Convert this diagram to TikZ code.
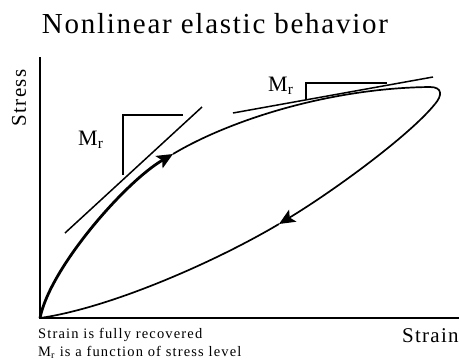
\documentclass[tikz,border=0pt]{standalone}
\usepackage{fontspec}
\setmainfont{Liberation Serif}
\usetikzlibrary{arrows.meta}

\begin{document}
\begin{tikzpicture}[x=1pt, y=-1pt,
      axis/.style={line width=2pt},
      load/.style={line width=2.8pt},
      curve/.style={line width=1.7pt},
      tang/.style={line width=1.5pt},
      tip/.style={-{Stealth[length=16pt, width=14pt, inset=3.5pt]}},
      ttl/.style={font=\fontsize{29}{32}\selectfont\addfontfeature{LetterSpace=6}},
      axlbl/.style={font=\fontsize{21}{24}\selectfont\addfontfeature{LetterSpace=6}},
      mlbl/.style={font=\fontsize{22}{24}\selectfont},
      note/.style={font=\fontsize{14.5}{16}\selectfont\addfontfeature{LetterSpace=8}},
    ]
    \useasboundingbox (0,0) rectangle (459,360);
    % axes
    \coordinate (O) at (40,318);
    \coordinate (ytop) at (40,57);
    \coordinate (xend) at (459,318);
    \draw[axis] (ytop) -- (O) -- (xend);
    % loading branch, arrow, then thin up to the turning point
    \coordinate (A) at (173,154);
    \coordinate (P) at (430,87);
    \coordinate (Q) at (435,104);
    \coordinate (B) at (279,224);
    \draw[load, tip] (O) .. controls (50,268) and (125,182) .. (A);
    \draw[curve] (A) .. controls (230,120) and (330,88) .. (P);
    \draw[curve] (P) .. controls (443,87) and (442,96) .. (Q);
    % unloading branch back to the origin
    \draw[curve, tip] (Q) .. controls (410,135) and (335,190) .. (B);
    \draw[curve] (B) .. controls (215,262) and (110,308) .. (O);
    % tangents and slope marks
    \draw[tang] (65,233) -- (202,107);
    \draw[tang] (123,175) -- (123,115) -- (183,115);
    \draw[tang] (233,113) -- (433,77);
    \draw[tang] (306,100) -- (306,83) -- (387,83);
    \node[mlbl, anchor=base west, inner sep=0pt] (m1) at (78,145) {M\textsubscript{r}};
    \node[mlbl, anchor=base west, inner sep=0pt] (m2) at (268,91) {M\textsubscript{r}};
    % texts
    \node[ttl, anchor=base] (title) at (215,33) {Nonlinear elastic behavior};
    \node[axlbl, anchor=base, rotate=90, inner sep=0pt] (stress) at (26,98) {Stress};
    \node[axlbl, anchor=base west, inner sep=0pt] (strain) at (402,342) {Strain};
    \node[note, anchor=base west, inner sep=0pt] (n1) at (38,338) {Strain is fully recovered};
    \node[note, anchor=base west, inner sep=0pt] (n2) at (38,356) {M\textsubscript{r} is a function of stress level};
  \end{tikzpicture}
\end{document}
